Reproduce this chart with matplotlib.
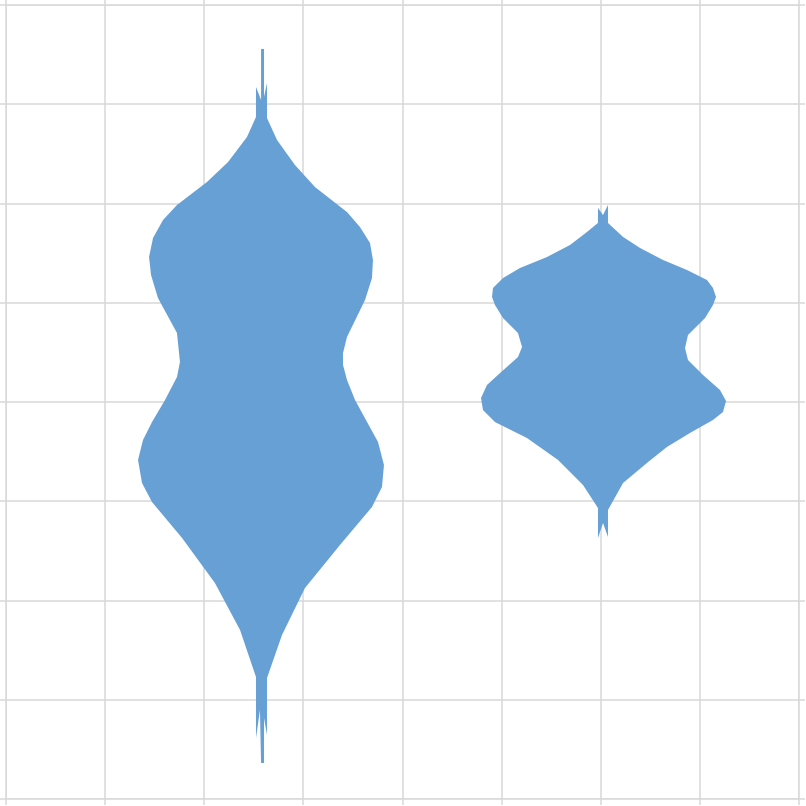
import numpy as np
import matplotlib
matplotlib.use("Agg")
import matplotlib.pyplot as plt

# violin outlines (data units, axes 0..8 both ways)
v1_left_x = [2.573, 2.573, 2.522, 2.522, 2.431, 2.240, 2.028, 1.725, 1.584, 1.483,
             1.443, 1.463, 1.533, 1.725, 1.755, 1.725, 1.604, 1.473, 1.382, 1.332,
             1.372, 1.473, 1.776, 2.108, 2.361, 2.522, 2.522, 2.562, 2.573]
v1_left_y = [7.557, 7.043, 7.174, 6.872, 6.670, 6.418, 6.217, 5.985, 5.834, 5.652,
             5.461, 5.280, 5.048, 4.695, 4.403, 4.252, 4.020, 3.798, 3.617, 3.416,
             3.184, 2.992, 2.630, 2.176, 1.703, 1.229, 0.615, 0.897, 0.363]
v1_right_x = [2.603, 2.603, 2.633, 2.633, 2.734, 2.915, 3.117, 3.440, 3.571, 3.672,
              3.702, 3.692, 3.622, 3.440, 3.400, 3.400, 3.440, 3.521, 3.753, 3.813,
              3.793, 3.692, 3.369, 3.016, 2.784, 2.633, 2.633, 2.603, 2.603]
v1_right_y = [7.557, 7.073, 7.214, 6.861, 6.640, 6.388, 6.166, 5.914, 5.763, 5.602,
              5.431, 5.249, 5.028, 4.655, 4.494, 4.373, 4.222, 4.020, 3.597, 3.365,
              3.144, 2.942, 2.559, 2.126, 1.652, 1.219, 0.645, 0.816, 0.363]

v2_left_x = [6.023, 5.972, 5.972, 5.861, 5.690, 5.458, 5.185, 5.014, 4.913, 4.903,
             4.933, 5.014, 5.165, 5.206, 5.165, 4.984, 4.852, 4.792, 4.812, 4.933,
             5.256, 5.569, 5.821, 5.972, 5.972, 6.023]
v2_left_y = [5.884, 5.955, 5.804, 5.713, 5.582, 5.461, 5.350, 5.249, 5.149, 5.058,
             4.977, 4.846, 4.695, 4.554, 4.453, 4.292, 4.171, 4.040, 3.919, 3.798,
             3.637, 3.416, 3.164, 2.932, 2.630, 2.781]
v2_right_x = [6.073, 6.073, 6.225, 6.396, 6.628, 6.870, 7.072, 7.132, 7.163, 7.132,
              7.052, 6.880, 6.850, 6.880, 7.032, 7.203, 7.264, 7.233, 7.132, 6.900,
              6.668, 6.477, 6.225, 6.073, 6.073]
v2_right_y = [5.985, 5.804, 5.663, 5.552, 5.431, 5.330, 5.229, 5.149, 5.058, 4.977,
              4.846, 4.675, 4.544, 4.423, 4.272, 4.121, 4.010, 3.899, 3.819, 3.688,
              3.547, 3.395, 3.184, 2.912, 2.640]

fill_color = "#67a0d5"
grid_color = "#d9d9d9"

fig = plt.figure(figsize=(8.06, 8.06), dpi=100)
ax = fig.add_axes([6/806, 7/806, 793/806, 794/806])

for lx, ly, rx, ry in [(v1_left_x, v1_left_y, v1_right_x, v1_right_y),
                       (v2_left_x, v2_left_y, v2_right_x, v2_right_y)]:
    xs = list(lx) + list(rx)[::-1]
    ys = list(ly) + list(ry)[::-1]
    ax.fill(xs, ys, color=fill_color, lw=0, zorder=3)

ax.set_xlim(0, 8)
ax.set_ylim(0, 8)
ax.set_xticks(np.arange(0, 9))
ax.set_yticks(np.arange(0, 9))
ax.grid(True, color=grid_color, lw=1.1, zorder=0)
ax.set_axisbelow(True)
ax.tick_params(direction="out", length=4.5, width=1.1, color=grid_color,
               top=True, right=True, labelleft=False, labelbottom=False)
for sp in ax.spines.values():
    sp.set_color(grid_color)
    sp.set_linewidth(1.1)

fig.savefig("out.png", dpi=100)
